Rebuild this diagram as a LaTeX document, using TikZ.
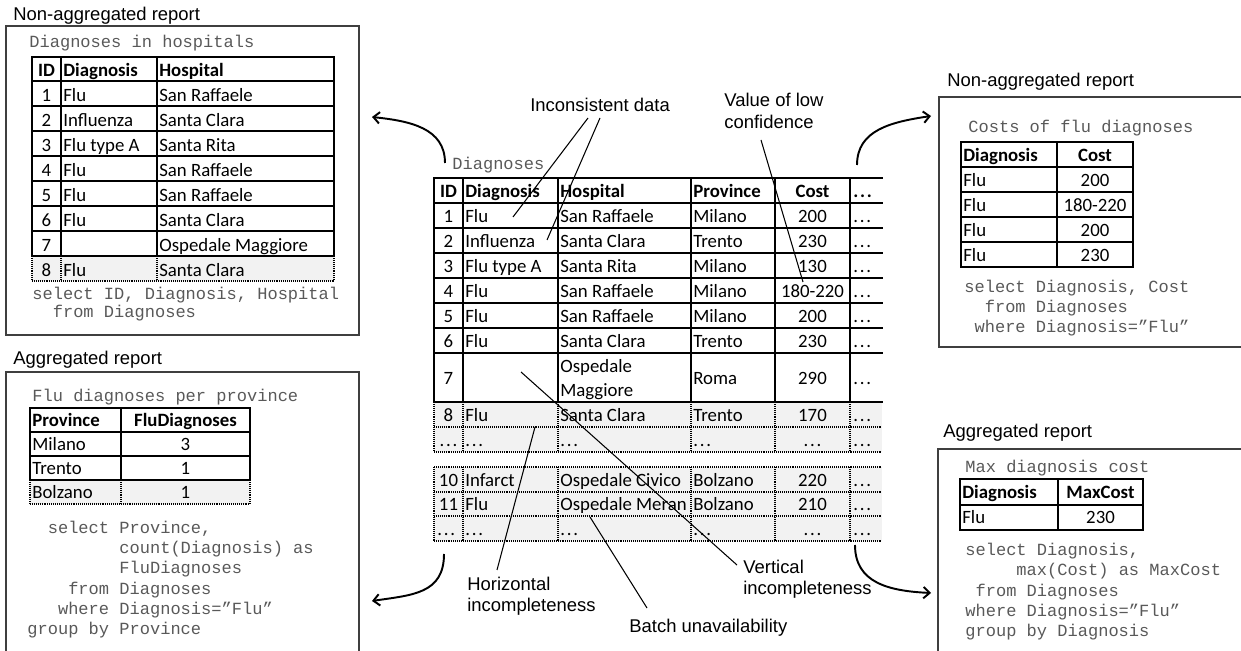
\documentclass[tikz,border=0pt]{standalone}
\usepackage{fontspec}
\setmainfont{Liberation Sans}
\setmonofont{Liberation Mono}
\newfontfamily\calibri{Carlito}
\usetikzlibrary{calc,arrows.meta}
\definecolor{codeGray}{HTML}{595959}
\definecolor{rowGray}{HTML}{F2F2F2}
\definecolor{boxGray}{HTML}{3F3F3F}
\newcommand{\moredots}{.\kern1pt.\kern1pt.}

\tikzset{
  lbl/.style={inner sep=0pt, anchor=base west, align=left, font=\fontsize{10.5}{12.4}\selectfont},
  cell/.style={inner sep=0pt, anchor=base west, font=\calibri\fontsize{10.7}{14.2}\selectfont},
  cellc/.style={cell, anchor=base},
  hcell/.style={cell, font=\calibri\bfseries\fontsize{10.7}{14.2}\selectfont},
  hcellc/.style={hcell, anchor=base},
  sql/.style={inner sep=0pt, anchor=base west, align=left, text=codeGray, font=\ttfamily\fontsize{9.7}{11.6}\selectfont},
  tabline/.style={line width=1.4pt, line cap=rect},
  dotline/.style={line width=1.1pt, dash pattern=on 0.55pt off 0.55pt},
  panel/.style={draw=boxGray, line width=0.6pt},
  flow/.style={line width=1.1pt, -{Straight Barb[length=3.5pt,width=6.5pt]}},
  note/.style={line width=0.6pt}
}

\begin{document}
\begin{tikzpicture}[x=0.02cm, y=-0.02cm]
  \useasboundingbox (0,0) rectangle (1241,651);
  \clip (0,0) rectangle (1241,651);

  % report panels
  \draw[panel] (6,26) rectangle (359,335);
  \draw[panel] (6,660) |- (359,372) -- (359,660);
  \draw[panel] (1250,97) -| (939,347) -- (1250,347);
  \draw[panel] (938,660) |- (1250,449);
  \node[lbl] (hosptitle) at (13,21) {Non-aggregated report};
  \node[lbl] (provtitle) at (13,365) {Aggregated report};
  \node[lbl] (costtitle) at (947,87) {Non-aggregated report};
  \node[lbl] (maxtitle) at (943,438) {Aggregated report};

  % diagnoses in hospitals
  \node[sql] (hospcap) at (29,48) {Diagnoses in hospitals};
  \fill[rowGray] (32,256) rectangle (334,281);
  \foreach \y in {57,81,106,131,156,181,206,231,256}
    \draw[tabline] (32,\y) -- (334,\y);
  \foreach \x in {32,61,157,334} {
    \draw[tabline] (\x,57) -- (\x,256);
    \draw[dotline] (\x,256) -- (\x,281);
  }
  \draw[dotline] (32,281) -- (334,281);
  \node[hcellc] (hid) at (46.5,76.5) {ID};
  \node[hcell] (hdia) at (63,76.5) {Diagnosis};
  \node[hcell] (hhos) at (159,76.5) {Hospital};
  \foreach \id/\dia/\hos in {1/Flu/San Raffaele, 2/Influenza/Santa Clara,
      3/Flu type A/Santa Rita, 4/Flu/San Raffaele, 5/Flu/San Raffaele,
      6/Flu/Santa Clara, 7//Ospedale Maggiore, 8/Flu/Santa Clara} {
    \node[cellc] (hid\id) at (46.5,76.5+25*\id) {\id};
    \node[cell] (hdia\id) at (63,76.5+25*\id) {\dia};
    \node[cell] (hhos\id) at (159,76.5+25*\id) {\hos};
  }
  \node[sql] (hospsql) at (32,318) {select ID, Diagnosis, Hospital\\[-1.3pt]~~from Diagnoses};

  % flu diagnoses per province
  \node[sql] (provcap) at (32,402) {Flu diagnoses per province};
  \fill[rowGray] (30,480) rectangle (250,504);
  \foreach \y in {408,432,456,480}
    \draw[tabline] (30,\y) -- (250,\y);
  \foreach \x in {30,121,250} {
    \draw[tabline] (\x,408) -- (\x,480);
    \draw[dotline] (\x,480) -- (\x,504);
  }
  \draw[dotline] (30,504) -- (250,504);
  \node[hcell] (pprov) at (32,426.5) {Province};
  \node[hcellc] (pcount) at (185.5,426.5) {FluDiagnoses};
  \foreach \pro/\n [count=\i] in {Milano/3, Trento/1, Bolzano/1} {
    \node[cell] (pprov\i) at (32,426.5+24*\i) {\pro};
    \node[cellc] (pcount\i) at (185.5,426.5+24*\i) {\n};
  }
  \node[sql] (provsql) at (27,635) {~~select Province,\\~~~~~~~~~count(Diagnosis) as\\~~~~~~~~~FluDiagnoses\\~~~~from Diagnoses\\~~~where Diagnosis=”Flu”\\group by Province};

  % costs of flu diagnoses
  \node[sql] (costcap) at (968,133) {Costs of flu diagnoses};
  \foreach \y in {142,167,192,217,242,267}
    \draw[tabline] (961,\y) -- (1133,\y);
  \foreach \x in {961,1057,1133}
    \draw[tabline] (\x,142) -- (\x,267);
  \node[hcell] (cdia) at (963,161.5) {Diagnosis};
  \node[hcellc] (ccost) at (1095,161.5) {Cost};
  \foreach \c [count=\i] in {200,180-220,200,230} {
    \node[cell] (cdia\i) at (963,161.5+25*\i) {Flu};
    \node[cellc] (ccost\i) at (1095,161.5+25*\i) {\c};
  }
  \node[sql] (costsql) at (964,333) {select Diagnosis, Cost\\~~from Diagnoses\\~where Diagnosis=”Flu”};

  % max diagnosis cost
  \node[sql] (maxcap) at (965,473) {Max diagnosis cost};
  \foreach \y in {479,505,530}
    \draw[tabline] (960,\y) -- (1143,\y);
  \foreach \x in {960,1058,1143}
    \draw[tabline] (\x,479) -- (\x,530);
  \node[hcell] (mxdia) at (962,498.5) {Diagnosis};
  \node[hcellc] (mxcost) at (1100.5,498.5) {MaxCost};
  \node[cell] (mxdia1) at (962,523.5) {Flu};
  \node[cellc] (mxcost1) at (1100.5,523.5) {230};
  \node[sql] (maxsql) at (965,637) {select Diagnosis,\\~~~~~max(Cost) as MaxCost\\~from Diagnoses\\where Diagnosis=”Flu”\\group by Diagnosis};

  % diagnoses table
  \node[sql] (diagcap) at (452,170) {Diagnoses};
  \fill[rowGray] (434,402) rectangle (882,452);
  \fill[rowGray] (434,467) rectangle (882,541);
  \foreach \y in {178,203,228,253,278,303,328,353,402}
    \draw[tabline] (434,\y) -- (882,\y);
  \foreach \x in {434,463,558,691,775,850} {
    \draw[tabline] (\x,178) -- (\x,402);
    \draw[dotline] (\x,402) -- (\x,452);
    \draw[dotline] (\x,467) -- (\x,541);
  }
  \foreach \y in {427,452,467,492,516,541}
    \draw[dotline] (434,\y) -- (882,\y);
  \node[hcellc] (did) at (448.5,197.5) {ID};
  \node[hcell] (ddia) at (465,197.5) {Diagnosis};
  \node[hcell] (dhos) at (560,197.5) {Hospital};
  \node[hcell] (dpro) at (693,197.5) {Province};
  \node[hcellc] (dcost) at (812.5,197.5) {Cost};
  \node[hcell] (dmore) at (853,197.5) {\moredots};
  \foreach \y/\id/\dia/\hos/\pro/\cost [count=\i] in {
      222.5/1/Flu/San Raffaele/Milano/200,
      247.5/2/Influenza/Santa Clara/Trento/230,
      272.5/3/Flu type A/Santa Rita/Milano/130,
      297.5/4/Flu/San Raffaele/Milano/180-220,
      322.5/5/Flu/San Raffaele/Milano/200,
      347.5/6/Flu/Santa Clara/Trento/230,
      421.5/8/Flu/Santa Clara/Trento/170,
      446.5/\moredots/\moredots/\moredots/\moredots/\moredots,
      486.5/10/Infarct/Ospedale Civico/Bolzano/220,
      511/11/Flu/Ospedale Meran/Bolzano/210} {
    \node[cellc] (r\i-id) at (448.5,\y) {\id};
    \node[cell] (r\i-dia) at (465,\y) {\dia};
    \node[cell] (r\i-hos) at (560,\y) {\hos};
    \node[cell] (r\i-pro) at (693,\y) {\pro};
    \node[cellc] (r\i-cost) at (812.5,\y) {\cost};
    \node[cell] (r\i-more) at (853,\y) {\moredots};
  }
  \node[cellc] (rseven-id) at (448.5,385) {7};
  \node[cell, align=left] (rseven-hos) at (560,397) {Ospedale\\Maggiore};
  \node[cell] (rseven-pro) at (693,385) {Roma};
  \node[cellc] (rseven-cost) at (812.5,385) {290};
  \node[cell] (rseven-more) at (853,385) {\moredots};
  \node[cell] (rlast-id) at (437,535.5) {\moredots};
  \node[cell] (rlast-dia) at (465,535.5) {\moredots};
  \node[cell] (rlast-hos) at (560,535.5) {\moredots};
  \node[cell] (rlast-pro) at (693,535.5) {\moredots};
  \node[cellc] (rlast-cost) at (812.5,535.5) {\moredots};
  \node[cell] (rlast-more) at (853,535.5) {\moredots};

  % annotations
  \node[lbl] (incons) at (530,112) {Inconsistent data};
  \node[lbl] (lowconf) at (724,128.3) {Value of low\\confidence};
  \node[lbl] (vertincomp) at (743,595) {Vertical\\incompleteness};
  \node[lbl] (horizincomp) at (467,612) {Horizontal\\incompleteness};
  \node[lbl] (batch) at (629,633) {Batch unavailability};
  \coordinate (fluone) at (513,217);
  \coordinate (flutwo) at (547,240);
  \coordinate (range) at (803,282);
  \coordinate (missrow) at (521,372);
  \coordinate (missgap) at (535,427);
  \coordinate (missbatch) at (590,517);
  \draw[note] ($(incons.base west)+(58,6)$) -- (fluone);
  \draw[note] ($(incons.base west)+(70,6)$) -- (flutwo);
  \draw[note] ($(lowconf.base west)+(37,11.7)$) -- (range);
  \draw[note] ($(vertincomp.base west)+(-6,-30)$) -- (missrow);
  \draw[note] ($(horizincomp.base west)+(30,-42)$) -- (missgap);
  \draw[note] ($(batch.base west)+(18,-25)$) -- (missbatch);

  % report arrows
  \coordinate (hosptip) at (372,117);
  \coordinate (costtip) at (931,116);
  \coordinate (provtip) at (372,601);
  \coordinate (maxtip) at (931,593);
  \draw[flow] ($(diagcap.base west)+(-7,-7)$) .. controls +(0,-35) and +(38,4) .. (hosptip);
  \draw[flow] ($(dmore.base west)+(4,-32.5)$) .. controls +(0,-35) and +(-40,6) .. (costtip);
  \draw[flow] ($(rlast-id.base west)+(7,18.5)$) .. controls +(0,40) and +(40,-6) .. (provtip);
  \draw[flow] ($(rlast-more.base west)+(2,9.5)$) .. controls +(0,38) and +(-42,-2) .. (maxtip);
\end{tikzpicture}
\end{document}
